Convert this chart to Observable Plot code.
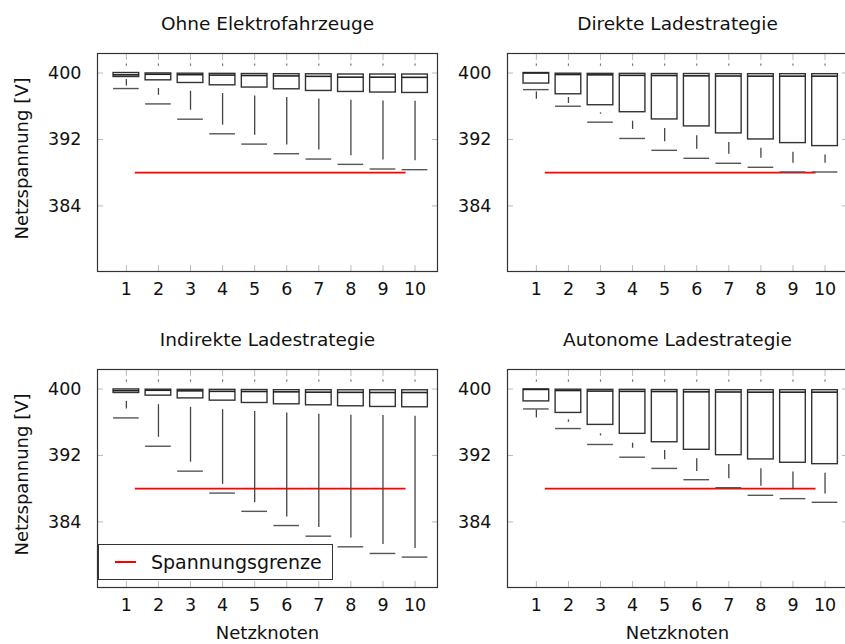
<!DOCTYPE html>
<html><head><meta charset="utf-8">
<script src="https://cdn.jsdelivr.net/npm/d3@7"></script>
<script src="https://cdn.jsdelivr.net/npm/@observablehq/plot@0.6"></script>
<style>
html,body{margin:0;padding:0;background:#fff;}
#wrap{position:relative;width:845px;height:644px;overflow:hidden;background:#fff;font-family:"DejaVu Sans",sans-serif;}
#wrap svg{position:absolute;overflow:visible;}
#legend{position:absolute;left:98px;top:544px;width:235px;height:36px;border:1px solid #333;background:#fff;box-sizing:border-box;}
#legend .sw{position:absolute;left:16px;top:16px;width:21px;height:2px;background:#ff0000;}
#legend .lb{position:absolute;left:52px;top:5px;font-size:19px;line-height:24px;color:#111;font-family:"DejaVu Sans",sans-serif;}
</style></head><body><div id="wrap"></div>
<script>
// ---- data ----
const nodes = [1, 2, 3, 4, 5, 6, 7, 8, 9, 10];
const yTicks = [384, 392, 400];
const titles = ["Ohne Elektrofahrzeuge", "Direkte Ladestrategie", "Indirekte Ladestrategie", "Autonome Ladestrategie"];
const yLabelText = "Netzspannung [V]";
const xLabelText = "Netzknoten";
const legendText = "Spannungsgrenze";
const limitValue = 388;
const limitFrom = 1.28;
const limitTo = 9.72;
const upperWhisker = [400.95, 400.95, 400.95, 400.95, 400.95, 400.95, 400.95, 400.95, 400.95, 400.95];

const ohneQ3 = [400.0, 399.95, 399.92, 399.9, 399.88, 399.86, 399.85, 399.82, 399.82, 399.82];
const ohneMedian = [399.78, 399.85, 399.8, 399.75, 399.7, 399.65, 399.6, 399.5, 399.5, 399.48];
const ohneQ1 = [399.52, 399.12, 398.8, 398.52, 398.25, 398.04, 397.84, 397.72, 397.65, 397.6];
const ohneCap = [398.13, 396.28, 394.44, 392.68, 391.44, 390.28, 389.64, 389.0, 388.44, 388.36];
const ohneSegTop = [399.21, 398.13, 397.8, 397.53, 397.24, 397.05, 396.88, 396.72, 396.64, 396.6];
const ohneSegBottom = [398.44, 397.32, 395.52, 393.72, 392.52, 391.32, 390.72, 390.04, 389.52, 389.44];

const direktQ3 = [400.0, 399.92, 399.9, 399.9, 399.88, 399.88, 399.86, 399.86, 399.86, 399.86];
const direktMedian = [400.0, 399.82, 399.78, 399.72, 399.7, 399.66, 399.64, 399.62, 399.62, 399.62];
const direktQ1 = [398.73, 397.44, 396.12, 395.28, 394.41, 393.57, 392.73, 392.0, 391.56, 391.2];
const direktCap = [398.0, 396.0, 394.08, 392.12, 390.69, 389.73, 389.13, 388.65, 388.08, 388.08];
const direktSegTop = [397.72, 397.05, 395.2, 394.2, 393.33, 392.44, 391.64, 390.93, 390.45, 390.13];
const direktSegBottom = [396.84, 396.33, 395.04, 393.21, 391.72, 390.81, 390.21, 389.73, 389.13, 389.13];

const indirektQ3 = [399.95, 399.92, 399.9, 399.9, 399.88, 399.86, 399.86, 399.85, 399.85, 399.85];
const indirektMedian = [399.8, 399.85, 399.78, 399.72, 399.7, 399.66, 399.62, 399.6, 399.58, 399.58];
const indirektQ1 = [399.52, 399.2, 398.87, 398.6, 398.32, 398.16, 398.04, 397.92, 397.84, 397.8];
const indirektCap = [396.52, 393.11, 390.11, 387.47, 385.27, 383.56, 382.28, 381.0, 380.2, 379.76];
const indirektSegTop = [398.51, 398.12, 397.79, 397.52, 397.28, 397.12, 396.95, 396.83, 396.8, 396.71];
const indirektSegBottom = [397.6, 394.19, 391.19, 388.52, 386.32, 384.59, 383.32, 382.07, 381.28, 380.8];

const autonomQ3 = [399.95, 399.92, 399.9, 399.9, 399.88, 399.88, 399.86, 399.86, 399.86, 399.86];
const autonomMedian = [399.95, 399.82, 399.75, 399.72, 399.7, 399.66, 399.64, 399.62, 399.62, 399.62];
const autonomQ1 = [398.51, 397.12, 395.68, 394.6, 393.59, 392.68, 392.03, 391.52, 391.12, 390.95];
const autonomCap = [397.6, 395.24, 393.32, 391.79, 390.44, 389.08, 388.12, 387.2, 386.8, 386.36];
const autonomSegTop = [397.48, 396.28, 394.6, 393.47, 392.6, 391.6, 390.92, 390.4, 390.0, 389.87];
const autonomSegBottom = [396.52, 395.99, 394.36, 392.87, 391.48, 390.08, 389.2, 388.28, 387.88, 387.36];

// ---- drawing ----
const FONT = "DejaVu Sans";
const half = 0.4;
const wrap = document.getElementById("wrap");

function panel(cfg) {
  const data = nodes.map((n, i) => ({
    node: n, q3: cfg.q3[i], median: cfg.median[i], q1: cfg.q1[i], cap: cfg.cap[i],
    segTop: cfg.segTop[i], segBottom: cfg.segBottom[i], upper: upperWhisker[i]
  }));
  const marks = [
    Plot.ruleY([limitValue], {y: d => d, x1: limitFrom, x2: limitTo, stroke: "#ff0000", strokeWidth: 1.7}),
    Plot.ruleX(data, {x: "node", y1: "segTop", y2: "segBottom", stroke: "#444", strokeWidth: 1.3}),
    Plot.ruleY(data, {y: "cap", x1: d => d.node - half, x2: d => d.node + half, stroke: "#555", strokeWidth: 1.4}),
    Plot.rect(data, {x1: d => d.node - half, x2: d => d.node + half, y1: "q1", y2: "q3", fill: "white", stroke: "#333", strokeWidth: 1.4}),
    Plot.ruleY(data, {y: "median", x1: d => d.node - half, x2: d => d.node + half, stroke: "#222", strokeWidth: 1.6}),
    Plot.ruleX(data, {x: "node", y1: "upper", y2: "upper", insetTop: -1.2, insetBottom: -1.2, stroke: "#777", strokeWidth: 1.2}),
    // inner ticks
    Plot.axisY({ticks: yTicks, anchor: "left", tickSize: 6, dx: 6, tickFormat: () => "", stroke: "#bbb", label: null}),
    Plot.axisY({ticks: yTicks, anchor: "right", tickSize: 6, dx: -6, tickFormat: () => "", stroke: "#bbb", label: null}),
    Plot.axisX({ticks: nodes, anchor: "top", tickSize: 6, dy: 6, tickFormat: () => "", stroke: "#bbb", label: null}),
    Plot.axisX({ticks: nodes, anchor: "bottom", tickSize: 6, dy: -6, tickFormat: () => "", stroke: "#bbb", label: null}),
    // labelled axes
    Plot.axisY({ticks: yTicks, anchor: "left", tickSize: 0, tickPadding: 16, fontSize: 17.5, fill: "#111", label: null}),
    Plot.axisX({ticks: nodes, anchor: "bottom", tickSize: 0, tickPadding: 11.5, fontSize: 17.5, fill: "#111", label: null}),
    Plot.frame({stroke: "#333", strokeWidth: 1.2}),
    Plot.text([cfg.title], {text: d => d, frameAnchor: "top", textAnchor: "middle", lineAnchor: "top", dy: -37, fontSize: 18.5, fill: "#111"})
  ];
  if (cfg.yLabel) marks.push(Plot.text([yLabelText], {text: d => d, frameAnchor: "left", textAnchor: "middle", rotate: -90, lineAnchor: "middle", dx: -75, dy: -4, fontSize: 18, fill: "#111"}));
  if (cfg.xLabel) marks.push(Plot.text([xLabelText], {text: d => d, frameAnchor: "bottom", textAnchor: "middle", lineAnchor: "top", dy: 39, fontSize: 18, fill: "#111"}));
  const svg = Plot.plot({
    width: 445, height: 331,
    marginLeft: 97, marginRight: 8, marginTop: 53, marginBottom: 60,
    style: {fontFamily: FONT, background: "transparent", overflow: "visible"},
    x: {type: "linear", domain: [0.1, 10.7], axis: null},
    y: {type: "linear", domain: [376.1, 402.35], axis: null},
    marks
  });
  svg.style.left = cfg.left + "px";
  svg.style.top = cfg.top + "px";
  wrap.appendChild(svg);
}

panel({title: titles[0], q3: ohneQ3, median: ohneMedian, q1: ohneQ1, cap: ohneCap, segTop: ohneSegTop, segBottom: ohneSegBottom, left: 0, top: 0, yLabel: true});
panel({title: titles[1], q3: direktQ3, median: direktMedian, q1: direktQ1, cap: direktCap, segTop: direktSegTop, segBottom: direktSegBottom, left: 410, top: 0});
panel({title: titles[2], q3: indirektQ3, median: indirektMedian, q1: indirektQ1, cap: indirektCap, segTop: indirektSegTop, segBottom: indirektSegBottom, left: 0, top: 316, yLabel: true, xLabel: true});
panel({title: titles[3], q3: autonomQ3, median: autonomMedian, q1: autonomQ1, cap: autonomCap, segTop: autonomSegTop, segBottom: autonomSegBottom, left: 410, top: 316, xLabel: true});

const lg = document.createElement("div");
lg.id = "legend";
lg.innerHTML = '<div class="sw"></div><div class="lb"></div>';
lg.querySelector(".lb").textContent = legendText;
wrap.appendChild(lg);
</script></body></html>
